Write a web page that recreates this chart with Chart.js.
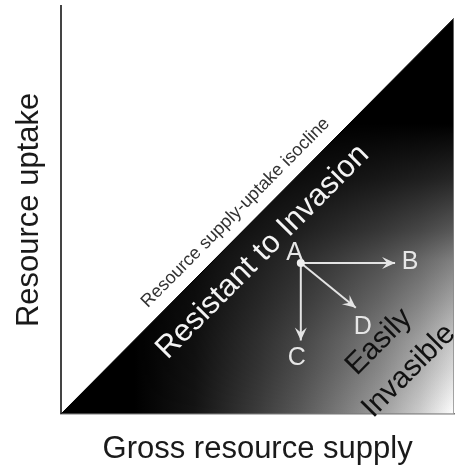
<!DOCTYPE html>
<html>
<head>
<meta charset="utf-8">
<script src="https://cdn.jsdelivr.net/npm/chart.js@4"></script>
<style>
  html, body { margin: 0; padding: 0; background: #fff; }
  #wrap { width: 461px; height: 470px; }
</style>
</head>
<body>
<div id="wrap"><canvas id="chart"></canvas></div>
<script>
// isocline: supply = uptake, the area under it is shaded
const supply = [0, 100];
const uptake = [0, 97];

// community A and the directions it can move
const startA = { x: 61, y: 37 };
const moveNames = ['B', 'C', 'D'];
const moveX = [85, 61, 75];
const moveY = [37, 18, 26];

// letter labels
const letterNames = ['A', 'B', 'C', 'D'];
const letterX = [59.4, 88.8, 60, 76.8];
const letterY = [39.3, 37.2, 13.6, 21.2];

// region labels
const regionNames = ['Resource supply-uptake isocline', 'Resistant to Invasion', 'Easily', 'Invasible'];
const regionX = [44.4, 51.3, 80.9, 88.5];
const regionY = [49.3, 39.7, 17.6, 10.5];

const FONT = "'Liberation Sans', Arial, Helvetica, sans-serif";

function grey(v) {
    const c = Math.round(v * 255);
    return 'rgb(' + c + ',' + c + ',' + c + ')';
}

// dark near the isocline, lightening towards the bottom and right edges
let shadeCache = null;
function shade(chart) {
    const area = chart.chartArea;
    if (!area) return '#000';
    if (shadeCache) return shadeCache;
    const off = document.createElement('canvas');
    off.width = chart.width;
    off.height = chart.height;
    const g = off.getContext('2d');

    const h = g.createLinearGradient(area.right, 0, area.right - 320, 0);
    [[0, 1], [0.106, 0.8], [0.23, 0.62], [0.356, 0.48], [0.48, 0.35], [0.606, 0.24], [0.81, 0.08], [1, 0]]
        .forEach(s => h.addColorStop(s[0], grey(s[1])));
    g.fillStyle = h;
    g.fillRect(0, 0, off.width, off.height);

    const v = g.createLinearGradient(0, area.bottom, 0, area.bottom - 290);
    [[0, 1], [0.15, 0.86], [0.255, 0.78], [0.39, 0.64], [0.53, 0.5], [0.63, 0.35], [0.81, 0.15], [1, 0]]
        .forEach(s => v.addColorStop(s[0], grey(s[1])));
    g.globalCompositeOperation = 'multiply';
    g.fillStyle = v;
    g.fillRect(0, 0, off.width, off.height);

    shadeCache = chart.ctx.createPattern(off, 'no-repeat');
    return shadeCache;
}

function arrowHead(ctx, x0, y0, x1, y1) {
    const a = Math.atan2(y1 - y0, x1 - x0);
    const len = 13, half = 6, notch = 8;
    ctx.save();
    ctx.translate(x1, y1);
    ctx.rotate(a);
    ctx.beginPath();
    ctx.moveTo(0, 0);
    ctx.lineTo(-len, -half);
    ctx.lineTo(-notch, 0);
    ctx.lineTo(-len, half);
    ctx.closePath();
    ctx.fillStyle = '#e4e4e4';
    ctx.fill();
    ctx.restore();
}

const annotations = {
    id: 'annotations',
    afterDatasetsDraw(chart) {
        const { ctx, scales: { x, y } } = chart;
        const ax = x.getPixelForValue(startA.x), ay = y.getPixelForValue(startA.y);

        moveNames.forEach((n, i) => {
            arrowHead(ctx, ax, ay, x.getPixelForValue(moveX[i]), y.getPixelForValue(moveY[i]));
        });

        ctx.save();
        ctx.textAlign = 'center';
        ctx.textBaseline = 'middle';
        ctx.font = '25px ' + FONT;
        ctx.fillStyle = '#e6e6e6';
        letterNames.forEach((n, i) => {
            ctx.fillText(n, x.getPixelForValue(letterX[i]), y.getPixelForValue(letterY[i]));
        });

        // text runs along the isocline
        const ang = Math.atan2(y.getPixelForValue(uptake[1]) - y.getPixelForValue(uptake[0]),
                               x.getPixelForValue(supply[1]) - x.getPixelForValue(supply[0]));
        const styles = [
            { size: 18, color: '#333333' },
            { size: 31, color: '#f4f4f4' },
            { size: 30, color: '#111111' },
            { size: 30, color: '#111111' }
        ];
        regionNames.forEach((n, i) => {
            ctx.save();
            ctx.translate(x.getPixelForValue(regionX[i]), y.getPixelForValue(regionY[i]));
            ctx.rotate(ang);
            ctx.font = styles[i].size + 'px ' + FONT;
            ctx.fillStyle = styles[i].color;
            ctx.fillText(n, 0, 0);
            ctx.restore();
        });
        ctx.restore();
    }
};

// lower order is drawn on top, so the shaded triangle goes underneath
const moveSets = moveNames.map((n, i) => ({
    label: 'A to ' + n,
    data: [startA, { x: moveX[i], y: moveY[i] }],
    showLine: true,
    borderColor: '#e4e4e4',
    borderWidth: 2,
    pointRadius: 0,
    fill: false,
    order: 1
}));

new Chart(document.getElementById('chart'), {
    type: 'scatter',
    data: {
        datasets: [
            {
                label: 'isocline',
                data: supply.map((s, i) => ({ x: s, y: uptake[i] })),
                showLine: true,
                fill: 'origin',
                backgroundColor: (c) => shade(c.chart),
                borderColor: '#000',
                borderWidth: 1,
                pointRadius: 0,
                order: 3
            },
            {
                label: 'edge',
                data: [{ x: supply[1], y: 0 }, { x: supply[1], y: uptake[1] }],
                showLine: true,
                borderColor: '#888',
                borderWidth: 1.5,
                pointRadius: 0,
                fill: false,
                order: 2
            },
            ...moveSets,
            {
                label: 'A',
                data: [startA],
                pointRadius: 4,
                pointBackgroundColor: '#f0f0f0',
                pointBorderWidth: 0,
                order: 0
            }
        ]
    },
    options: {
        responsive: true,
        maintainAspectRatio: false,
        animation: false,
        layout: { padding: { top: 6, right: 7, left: 0, bottom: 0 } },
        plugins: {
            legend: { display: false },
            tooltip: { enabled: false }
        },
        scales: {
            x: {
                min: 0, max: 100,
                ticks: { display: false },
                grid: { display: false, drawTicks: false },
                border: { display: true, color: '#777', width: 1.5 },
                title: {
                    display: true,
                    text: 'Gross resource supply',
                    color: '#1a1a1a',
                    font: { size: 31, family: FONT },
                    padding: { top: 17, bottom: 2 }
                }
            },
            y: {
                min: 0, max: 100,
                ticks: { display: false },
                grid: { display: false, drawTicks: false },
                border: { display: true, color: '#444', width: 2 },
                title: {
                    display: true,
                    text: 'Resource uptake',
                    color: '#1a1a1a',
                    font: { size: 31, family: FONT },
                    padding: { top: 11, bottom: 13 }
                }
            }
        }
    },
    plugins: [annotations]
});
</script>
</body>
</html>
